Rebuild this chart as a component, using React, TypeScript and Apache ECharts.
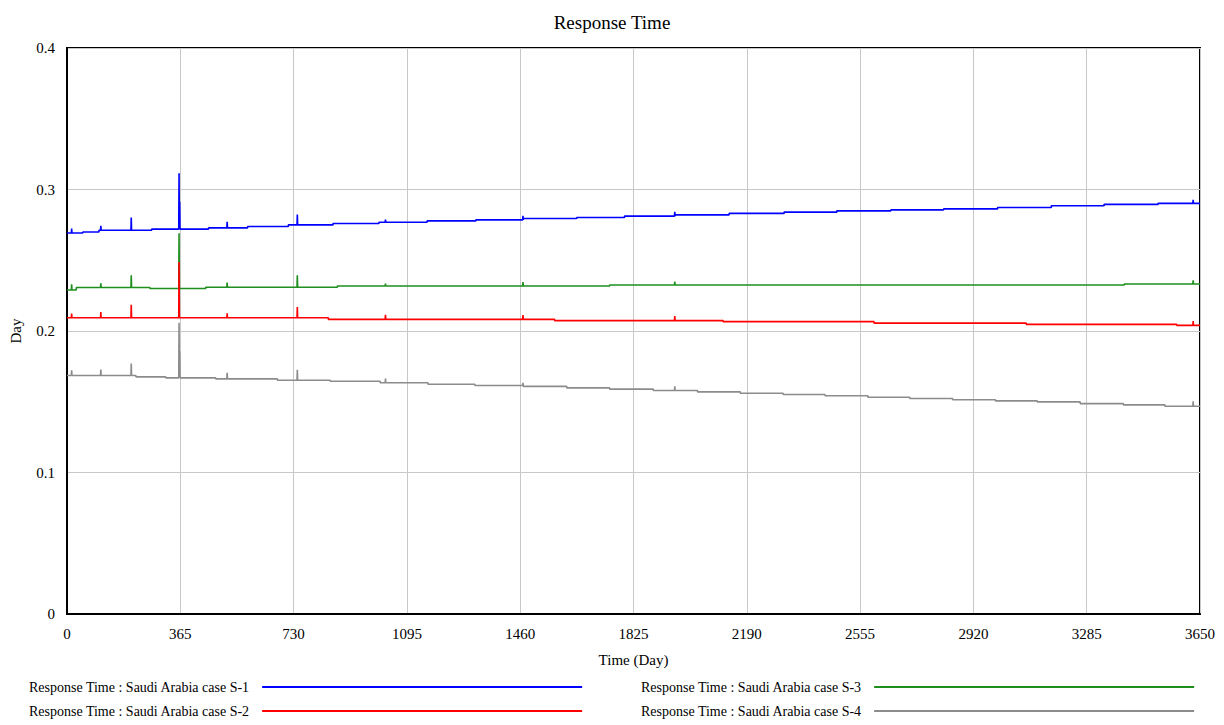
import React, { useEffect, useRef } from 'react';
import * as echarts from 'echarts';

// ---- Data (day, value) ----
const SERIES_NAMES = [
  'Response Time : Saudi Arabia case S-1',
  'Response Time : Saudi Arabia case S-2',
  'Response Time : Saudi Arabia case S-3',
  'Response Time : Saudi Arabia case S-4',
];

const X_MIN = 0;
const X_MAX = 3650;
const X_INTERVAL = 365;
const Y_MIN = 0;
const Y_MAX = 0.4;
const Y_INTERVAL = 0.1;

// step levels: [day at which level starts, level]
const S1_STEPS: [number, number][] = [
  [0, 0.2693], [51, 0.27], [103, 0.2712], [273, 0.272], [456, 0.2729], [582, 0.2739],
  [713, 0.275], [857, 0.276], [1005, 0.2769], [1160, 0.2778], [1317, 0.2785], [1470, 0.2795],
  [1642, 0.2802], [1796, 0.2812], [1960, 0.2821], [2133, 0.2831], [2310, 0.284], [2480, 0.2849],
  [2654, 0.2856], [2824, 0.2863], [2998, 0.2873], [3171, 0.2885], [3341, 0.2895], [3515, 0.2902],
];
// spikes: [day, peak value]
const S1_SPIKES: [number, number][] = [
  [14, 0.2724], [108, 0.2743], [206, 0.2802], [360, 0.3114], [362, 0.2913], [515, 0.2771],
  [741, 0.2824], [1025, 0.2788], [1468, 0.2814], [1957, 0.2842], [3627, 0.2927],
];

const S2_STEPS: [number, number][] = [
  [0, 0.2094], [842, 0.2082], [1571, 0.2073], [2114, 0.2066], [2600, 0.2056], [3090, 0.2047], [3575, 0.204],
];
const S2_SPIKES: [number, number][] = [
  [14, 0.2123], [108, 0.2134], [206, 0.2186], [360, 0.2488], [515, 0.2125], [741, 0.2169],
  [1025, 0.2115], [1468, 0.2113], [1957, 0.2106], [3627, 0.207],
];

const S3_STEPS: [number, number][] = [
  [0, 0.229], [30, 0.2307], [267, 0.23], [447, 0.2309], [871, 0.2318], [1748, 0.2325], [3406, 0.2332],
];
const S3_SPIKES: [number, number][] = [
  [14, 0.233], [108, 0.2337], [206, 0.2394], [360, 0.2691], [515, 0.2342], [741, 0.2394],
  [1025, 0.2335], [1468, 0.2346], [1957, 0.2349], [3627, 0.2358],
];

const S4_STEPS: [number, number][] = [
  [0, 0.1686], [222, 0.1676], [318, 0.1669], [479, 0.1662], [678, 0.1652], [848, 0.1645],
  [1009, 0.1634], [1163, 0.1624], [1314, 0.1615], [1470, 0.1609], [1610, 0.1598], [1748, 0.1589],
  [1889, 0.1579], [2031, 0.157], [2169, 0.156], [2307, 0.1551], [2442, 0.1542], [2580, 0.1532],
  [2715, 0.1523], [2853, 0.1514], [2991, 0.1506], [3126, 0.1499], [3264, 0.1487], [3403, 0.1478],
  [3537, 0.1468],
];
const S4_SPIKES: [number, number][] = [
  [14, 0.1723], [108, 0.1728], [206, 0.1771], [360, 0.2059], [362, 0.1858], [515, 0.1705],
  [741, 0.1726], [1025, 0.1664], [1468, 0.1634], [1957, 0.161], [3627, 0.1504],
];

const COLORS = ['#0000ff', '#ff0000', '#1e8f1e', '#8c8c8c'];

function buildPoints(steps: [number, number][], spikes: [number, number][], end: number): [number, number][] {
  const events: { d: number; kind: 'step' | 'spike'; v: number }[] = [];
  steps.slice(1).forEach(([d, v]) => events.push({ d, kind: 'step', v }));
  spikes.forEach(([d, v]) => events.push({ d, kind: 'spike', v }));
  events.sort((a, b) => a.d - b.d);
  let cur = steps[0][1];
  const pts: [number, number][] = [[steps[0][0], cur]];
  for (const e of events) {
    if (e.kind === 'step') {
      pts.push([e.d, cur]);
      cur = e.v;
      pts.push([e.d, cur]);
    } else {
      pts.push([e.d, cur]);
      pts.push([e.d + 1, e.v]);
      pts.push([e.d + 2, cur]);
    }
  }
  pts.push([end, cur]);
  return pts;
}

const FONT = 'Liberation Serif';

// legend slot positions (left, top) for each series
const LEGEND_POS: [number, number][] = [
  [28, 680],
  [28, 704],
  [640, 680],
  [640, 704],
];

export default function App() {
  const ref = useRef<HTMLDivElement>(null);
  useEffect(() => {
    document.body.style.margin = '0';
    const chart = echarts.init(ref.current!, null, { renderer: 'svg' });
    const data = [
      buildPoints(S1_STEPS, S1_SPIKES, X_MAX),
      buildPoints(S2_STEPS, S2_SPIKES, X_MAX),
      buildPoints(S3_STEPS, S3_SPIKES, X_MAX),
      buildPoints(S4_STEPS, S4_SPIKES, X_MAX),
    ];
    // draw order: blue, green, red, gray (red over green)
    const order = [0, 2, 1, 3];
    chart.setOption({
      animation: false,
      backgroundColor: '#ffffff',
      textStyle: { fontFamily: FONT },
      title: {
        text: 'Response Time',
        left: 'center',
        top: 8,
        textStyle: { fontFamily: FONT, fontSize: 19, fontWeight: 'normal', color: '#000' },
      },
      grid: {
        left: 64,
        right: 24,
        top: 48,
        bottom: 111,
        show: true,
        borderColor: '#000',
        borderWidth: 2,
        backgroundColor: 'transparent',
      },
      legend: SERIES_NAMES.map((n, i) => ({
        data: [n],
        orient: 'horizontal',
        left: LEGEND_POS[i][0],
        top: LEGEND_POS[i][1],
        align: 'right',
        icon: 'rect',
        itemWidth: 320,
        itemHeight: 2,
        padding: 0,
        selectedMode: false,
        textStyle: { fontFamily: FONT, fontSize: 14, color: '#000', padding: [0, 8, 0, 0] },
      })),
      xAxis: {
        type: 'value',
        min: X_MIN,
        max: X_MAX,
        interval: X_INTERVAL,
        name: 'Time (Day)',
        nameLocation: 'middle',
        nameGap: 38,
        nameTextStyle: { fontFamily: FONT, fontSize: 15, color: '#000' },
        axisLine: { show: true, lineStyle: { color: '#000', width: 2 } },
        axisTick: { show: false },
        axisLabel: {
          fontFamily: FONT,
          fontSize: 15,
          color: '#000',
          margin: 12,
          formatter: (v: number) => String(v),
        },
        splitLine: { show: true, lineStyle: { color: '#c8c8c8', width: 1 } },
      },
      yAxis: {
        type: 'value',
        min: Y_MIN,
        max: Y_MAX,
        interval: Y_INTERVAL,
        name: 'Day',
        nameLocation: 'middle',
        nameGap: 44,
        nameTextStyle: { fontFamily: FONT, fontSize: 15, color: '#000' },
        axisLine: { show: true, lineStyle: { color: '#000', width: 2 } },
        axisTick: { show: false },
        axisLabel: {
          fontFamily: FONT,
          fontSize: 15,
          color: '#000',
          margin: 12,
          formatter: (v: number) => (v === 0 ? '0' : v.toFixed(1)),
        },
        splitLine: { show: true, lineStyle: { color: '#c8c8c8', width: 1 } },
      },
      series: order.map((i) => ({
        name: SERIES_NAMES[i],
        type: 'line',
        data: data[i],
        showSymbol: false,
        symbol: 'none',
        color: COLORS[i],
        lineStyle: { color: COLORS[i], width: 1.6 },
        itemStyle: { color: COLORS[i] },
        emphasis: { disabled: true },
      })),
    });
    return () => chart.dispose();
  }, []);
  return <div ref={ref} style={{ width: 1224, height: 725 }} />;
}
